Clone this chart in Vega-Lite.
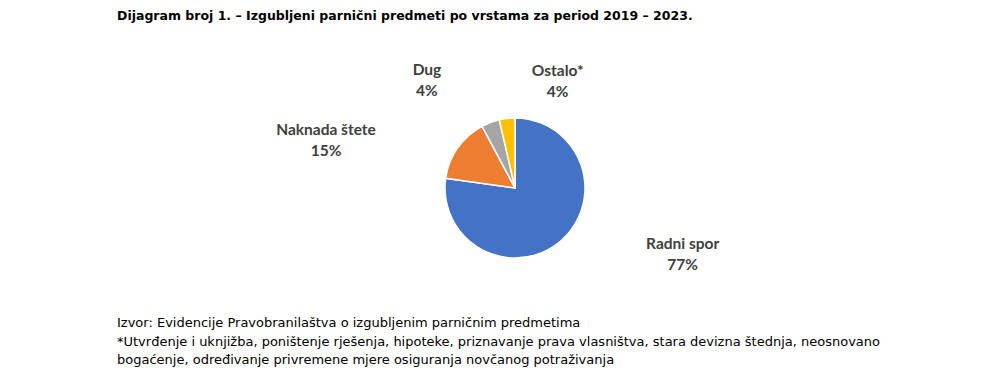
{
  "$schema": "https://vega.github.io/schema/vega-lite/v6.json",
  "background": "white",
  "padding": {"left": 117, "top": 10, "right": 0, "bottom": 0},
  "title": {
    "text": "Dijagram broj 1. – Izgubljeni parnični predmeti po vrstama za period 2019 – 2023.",
    "anchor": "start",
    "font": "DejaVu Sans",
    "fontSize": 12.5,
    "fontWeight": "bold",
    "color": "#000000",
    "offset": 35
  },
  "datasets": {
    "vrste": [
      {"vrsta": "Radni spor", "udio": 77.2, "redoslijed": 1, "oznaka": "Radni spor\n77%"},
      {"vrsta": "Naknada štete", "udio": 15.0, "redoslijed": 2, "oznaka": "Naknada štete\n15%"},
      {"vrsta": "Dug", "udio": 4.2, "redoslijed": 3, "oznaka": "Dug\n4%"},
      {"vrsta": "Ostalo*", "udio": 3.6, "redoslijed": 4, "oznaka": "Ostalo*\n4%"}
    ]
  },
  "vconcat": [
    {
      "width": 796,
      "height": 250,
      "data": {"name": "vrste"},
      "title": {
        "text": [
          "Izvor: Evidencije Pravobranilaštva o izgubljenim parničnim predmetima",
          "*Utvrđenje i uknjižba, poništenje rješenja, hipoteke, priznavanje prava vlasništva, stara devizna štednja, neosnovano",
          "bogaćenje, određivanje privremene mjere osiguranja novčanog potraživanja"
        ],
        "orient": "bottom",
        "anchor": "start",
        "font": "DejaVu Sans",
        "fontSize": 13,
        "fontWeight": "normal",
        "lineHeight": 18.5,
        "color": "#000000",
        "offset": 4
      },
      "encoding": {
        "theta": {"field": "udio", "type": "quantitative", "stack": true},
        "order": {"field": "redoslijed", "type": "quantitative"},
        "color": {
          "field": "vrsta",
          "type": "nominal",
          "scale": {
            "domain": ["Radni spor", "Naknada štete", "Dug", "Ostalo*"],
            "range": ["#4472C4", "#ED7D31", "#A5A5A5", "#FFC000"]
          },
          "legend": null
        }
      },
      "layer": [
        {
          "mark": {"type": "arc", "outerRadius": 70, "stroke": "#ffffff", "strokeWidth": 1.5}
        },
        {
          "mark": {"type": "text", "radius": 100, "dx": 102, "dy": -19, "font": "Lato", "fontSize": 15.5, "fontWeight": "bold", "lineBreak": "\n", "lineHeight": 21, "align": "center", "baseline": "middle"},
          "encoding": {
            "text": {"field": "oznaka"},
            "color": {"value": "#404040"},
            "opacity": {"condition": {"test": "datum.vrsta === 'Radni spor'", "value": 1}, "value": 0}
          }
        },
        {
          "mark": {"type": "text", "radius": 100, "dx": -107, "dy": -1, "font": "Lato", "fontSize": 15.5, "fontWeight": "bold", "lineBreak": "\n", "lineHeight": 21, "align": "center", "baseline": "middle"},
          "encoding": {
            "text": {"field": "oznaka"},
            "color": {"value": "#404040"},
            "opacity": {"condition": {"test": "datum.vrsta === 'Naknada štete'", "value": 1}, "value": 0}
          }
        },
        {
          "mark": {"type": "text", "radius": 100, "dx": -53, "dy": -24, "font": "Lato", "fontSize": 15.5, "fontWeight": "bold", "lineBreak": "\n", "lineHeight": 21, "align": "center", "baseline": "middle"},
          "encoding": {
            "text": {"field": "oznaka"},
            "color": {"value": "#404040"},
            "opacity": {"condition": {"test": "datum.vrsta === 'Dug'", "value": 1}, "value": 0}
          }
        },
        {
          "mark": {"type": "text", "radius": 100, "dx": 54, "dy": -18, "font": "Lato", "fontSize": 15.5, "fontWeight": "bold", "lineBreak": "\n", "lineHeight": 21, "align": "center", "baseline": "middle"},
          "encoding": {
            "text": {"field": "oznaka"},
            "color": {"value": "#404040"},
            "opacity": {"condition": {"test": "datum.vrsta === 'Ostalo*'", "value": 1}, "value": 0}
          }
        }
      ]
    }
  ],
  "config": {"view": {"stroke": null}}
}
